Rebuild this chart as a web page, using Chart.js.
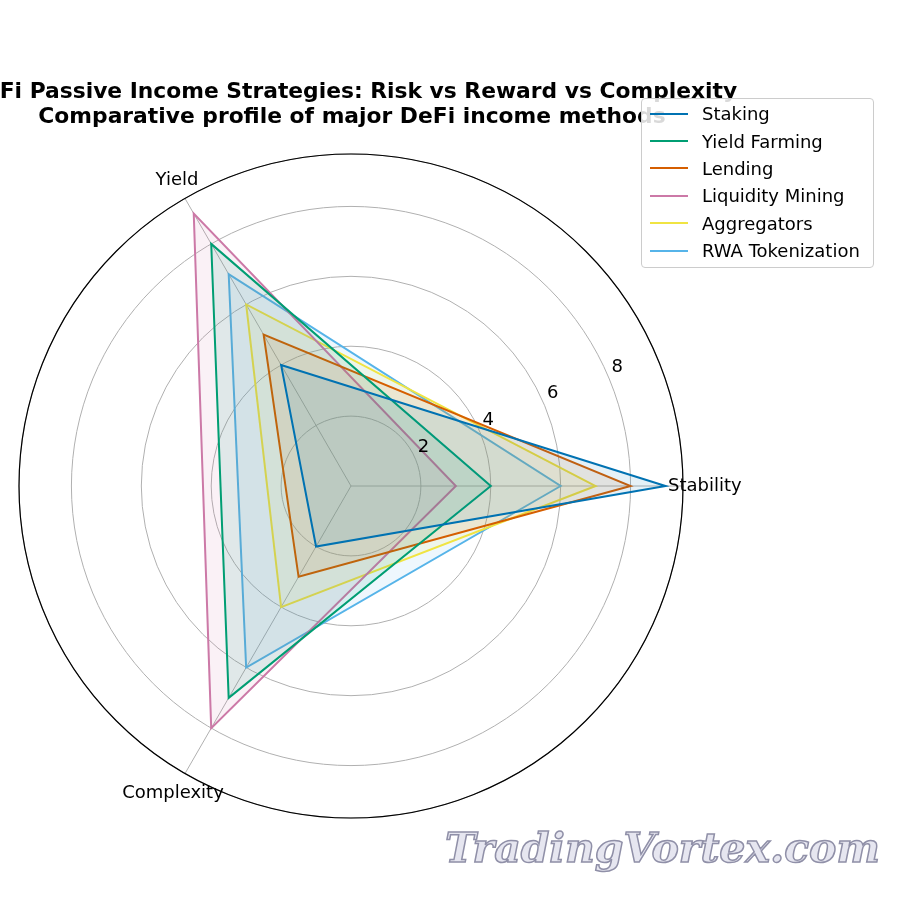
<!DOCTYPE html>
<html><head><meta charset="utf-8">
<script src="https://cdn.jsdelivr.net/npm/chart.js@4"></script>
<style>
body{margin:0;background:#fff;font-family:"DejaVu Sans",sans-serif;}
#wrap{position:relative;width:900px;height:900px;overflow:hidden}
#title{position:absolute;top:78px;left:-48px;width:800px;text-align:center;font-weight:bold;font-size:21.8px;line-height:25px;white-space:nowrap;z-index:1}
#legend{position:absolute;left:641px;top:98px;width:233px;height:170px;border:1px solid #ccc;border-radius:4px;background:rgba(255,255,255,0.85);font-size:18px;z-index:2;box-sizing:border-box;padding:1px 0 0 8px}
#legend div{height:27.4px;display:flex;align-items:center}
#legend span{display:inline-block;width:38px;height:2px;margin-right:14px}
#wm{position:absolute;left:445px;top:824px;font-family:"DejaVu Serif",serif;font-style:italic;font-weight:bold;font-size:41px;color:#e6e6f0;-webkit-text-stroke:1.5px #9090a8;white-space:nowrap}
</style></head><body>
<div id="wrap">
<canvas id="c" width="900" height="900"></canvas>
<div id="title">DeFi Passive Income Strategies: Risk vs Reward vs Complexity<br>Comparative profile of major DeFi income methods</div>
<div id="legend"></div>
<div id="wm">TradingVortex.com</div>
</div>
<script>
// order: Stability, Yield, Complexity
const axes = ['Stability','Yield','Complexity'];
const seriesNames = ['Staking','Yield Farming','Lending','Liquidity Mining','Aggregators','RWA Tokenization'];
const staking = [9,4,2];
const yieldFarming = [4,8,7];
const lending = [8,5,3];
const liquidityMining = [3,9,8];
const aggregators = [7,6,4];
const rwa = [6,7,6];
const tickLabels = ['2','4','6','8'];
const colors = ['#0072B2','#009E73','#D55E00','#CC79A7','#F0E442','#56B4E9'];
const all = [staking,yieldFarming,lending,liquidityMining,aggregators,rwa];
const order=[0,2,1];
const labels = order.map(i=>axes[i]);
function hexA(h,a){const n=parseInt(h.slice(1),16);return `rgba(${n>>16},${(n>>8)&255},${n&255},${a})`;}
const datasets = all.map((d,i)=>({label:seriesNames[i],data:order.map(k=>d[k]),borderColor:colors[i],backgroundColor:hexA(colors[i],0.1),fill:true,borderWidth:2,pointRadius:0,tension:0}));
const lg=document.getElementById('legend');
seriesNames.forEach((n,i)=>{lg.innerHTML+=`<div><span style="background:${colors[i]}"></span>${n}</div>`;});
const deco={id:'deco',afterDraw(ch){
 const s=ch.scales.r,ctx=ch.ctx;
 ctx.save();
 ctx.beginPath();ctx.arc(s.xCenter,s.yCenter,s.drawingArea,0,Math.PI*2);ctx.strokeStyle='#000';ctx.lineWidth=1.2;ctx.stroke();
 ctx.font='18px "DejaVu Sans"';ctx.fillStyle='#000';ctx.textBaseline='middle';
 const a=22.5*Math.PI/180;
 tickLabels.forEach(t=>{const r=s.getDistanceFromCenterForValue(+t);ctx.textAlign='center';ctx.fillText(t,s.xCenter+r*Math.cos(a)+8,s.yCenter-r*Math.sin(a)-12);});
 const pos=[[0,'left',-15,0],[120,'center',-8,-18],[240,'center',-12,20]];
 axes.forEach((l,i)=>{const ang=pos[i][0]*Math.PI/180,R=s.drawingArea;ctx.textAlign=pos[i][1];
  ctx.fillText(l,s.xCenter+R*Math.cos(ang)+pos[i][2],s.yCenter-R*Math.sin(ang)+pos[i][3]);});
 ctx.restore();}};
new Chart(document.getElementById('c'),{type:'radar',data:{labels,datasets},
 options:{responsive:false,animation:false,layout:{padding:{left:19,right:217,top:154,bottom:82}},
 plugins:{legend:{display:false},title:{display:false},tooltip:{enabled:false}},
 scales:{r:{min:0,max:9.5,startAngle:90,ticks:{display:false,stepSize:2},
  grid:{circular:true,color:'#b0b0b0',lineWidth:1},angleLines:{color:'#b0b0b0'},pointLabels:{display:false}}}},
 plugins:[deco]});
</script></body></html>
